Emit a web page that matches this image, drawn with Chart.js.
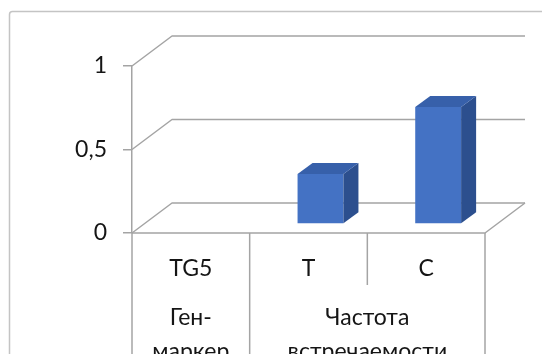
<!DOCTYPE html>
<html>
<head>
<meta charset="utf-8">
<style>
  html, body { margin: 0; padding: 0; background: #ffffff; overflow: hidden; }
  canvas { display: block; }
</style>
<script src="https://cdn.jsdelivr.net/npm/chart.js@4.4.1/dist/chart.umd.min.js"></script>
</head>
<body>
<canvas id="chart" width="542" height="354"></canvas>
<script>
// Categories along the bottom and their frequency values
const categories = ['TG5', 'T', 'C'];
const frequency = [null, 0.3, 0.7];

// Second row of the category table: caption lines and the categories each spans
const groupLabels = [['Ген-', 'маркер'], ['Частота', 'встречаемости']];
const groupFirst = [0, 1];
const groupLast = [0, 2];

// Value axis ticks
const yTicks = [0, 0.5, 1];

// Drawing style
const FONT = { family: 'Lato', size: 23 };
const TEXT = '#151515';
const LINE = '#a4a4a4';
const FRONT = '#4472C4';
const TOP = '#3760AA';
const SIDE = '#2C4F8E';
const WALL_DX = 40, WALL_DY = 30;   // depth of the floor and side wall
const BAR_DX = 12, BAR_DY = 9;      // bars stand this far behind the front plane
const DEPTH_DX = 15, DEPTH_DY = 11; // depth of each bar

const fmt = v => String(v).replace('.', ',');

const chart3d = {
  id: 'chart3d',
  beforeDraw(chart) {
    const ctx = chart.ctx;
    ctx.save();
    ctx.strokeStyle = '#c4c4c4';
    ctx.lineWidth = 1.5;
    ctx.beginPath();
    ctx.roundRect(9.5, 11.5, 640, 440, 3);
    ctx.stroke();
    ctx.restore();
  },
  beforeDatasetsDraw(chart) {
    const { ctx, chartArea: a, scales: { y } } = chart;
    ctx.save();
    ctx.strokeStyle = LINE;
    ctx.lineWidth = 1.5;
    ctx.lineJoin = 'round';
    // side wall diagonals running into the back wall gridlines
    yTicks.forEach(v => {
      const py = y.getPixelForValue(v);
      ctx.beginPath();
      ctx.moveTo(a.left, py);
      ctx.lineTo(a.left + WALL_DX, py - WALL_DY);
      ctx.lineTo(a.right + WALL_DX, py - WALL_DY);
      ctx.stroke();
    });
    // floor: front edge and right edge
    const p0 = y.getPixelForValue(0);
    ctx.beginPath();
    ctx.moveTo(a.left, p0);
    ctx.lineTo(a.right, p0);
    ctx.lineTo(a.right + WALL_DX, p0 - WALL_DY);
    ctx.stroke();
    ctx.restore();
    // bar fronts are drawn in the plane set back from the front edge
    ctx.save();
    ctx.translate(BAR_DX, -BAR_DY);
  },
  afterDatasetsDraw(chart) {
    const ctx = chart.ctx;
    chart.getDatasetMeta(0).data.forEach((bar, i) => {
      if (frequency[i] == null) return;
      const { x, y, base, width } = bar.getProps(['x', 'y', 'base', 'width'], true);
      const l = x - width / 2, r = x + width / 2;
      ctx.fillStyle = SIDE;
      ctx.beginPath();
      ctx.moveTo(r, y);
      ctx.lineTo(r + DEPTH_DX, y - DEPTH_DY);
      ctx.lineTo(r + DEPTH_DX, base - DEPTH_DY);
      ctx.lineTo(r, base);
      ctx.closePath();
      ctx.fill();
      ctx.fillStyle = TOP;
      ctx.beginPath();
      ctx.moveTo(l, y);
      ctx.lineTo(l + DEPTH_DX, y - DEPTH_DY);
      ctx.lineTo(r + DEPTH_DX, y - DEPTH_DY);
      ctx.lineTo(r, y);
      ctx.closePath();
      ctx.fill();
    });
    ctx.restore();
  },
  afterDraw(chart) {
    const { ctx, chartArea: a, scales: { x } } = chart;
    const H = chart.height;
    const centre = i => x.getPixelForValue(i);
    const edge = i => (i <= 0 ? a.left : i >= categories.length ? a.right
      : (centre(i - 1) + centre(i)) / 2);
    ctx.save();
    ctx.strokeStyle = LINE;
    ctx.lineWidth = 1.5;
    // table borders below the axis
    const vline = (px, y1) => {
      ctx.beginPath();
      ctx.moveTo(px, a.bottom);
      ctx.lineTo(px, y1);
      ctx.stroke();
    };
    vline(a.left, H);
    vline(a.right, H);
    for (let i = 1; i < categories.length; i++) {
      const isGroupEdge = groupFirst.includes(i);
      vline(edge(i), isGroupEdge ? H : a.bottom + 52);
    }
    // labels
    ctx.fillStyle = TEXT;
    ctx.font = `${FONT.size}px ${FONT.family}`;
    ctx.textAlign = 'center';
    ctx.textBaseline = 'alphabetic';
    categories.forEach((c, i) => ctx.fillText(c, centre(i), a.bottom + 43));
    groupLabels.forEach((lines, g) => {
      const cx = (centre(groupFirst[g]) + centre(groupLast[g])) / 2;
      lines.forEach((t, k) => ctx.fillText(t, cx, a.bottom + 92 + k * 34));
    });
    ctx.restore();
  }
};

new Chart(document.getElementById('chart'), {
  type: 'bar',
  data: {
    labels: categories,
    datasets: [{
      data: frequency,
      backgroundColor: FRONT,
      borderWidth: 0,
      categoryPercentage: 1,
      barPercentage: 0.39
    }]
  },
  options: {
    responsive: false,
    animation: false,
    devicePixelRatio: 1,
    layout: { padding: { left: 0, top: 66, right: 57, bottom: 121 } },
    plugins: { legend: { display: false }, tooltip: { enabled: false } },
    scales: {
      x: { display: false, offset: true },
      y: {
        min: 0,
        max: 1,
        afterBuildTicks: s => { s.ticks = yTicks.map(v => ({ value: v })); },
        afterFit: s => { s.width = 132; },
        ticks: { callback: v => fmt(v), font: FONT, color: TEXT, padding: 16 },
        grid: { drawOnChartArea: false, drawTicks: true, tickLength: 9, color: LINE, lineWidth: 1.5 },
        border: { display: true, color: LINE, width: 1.5 }
      }
    }
  },
  plugins: [chart3d]
});
</script>
</body>
</html>
